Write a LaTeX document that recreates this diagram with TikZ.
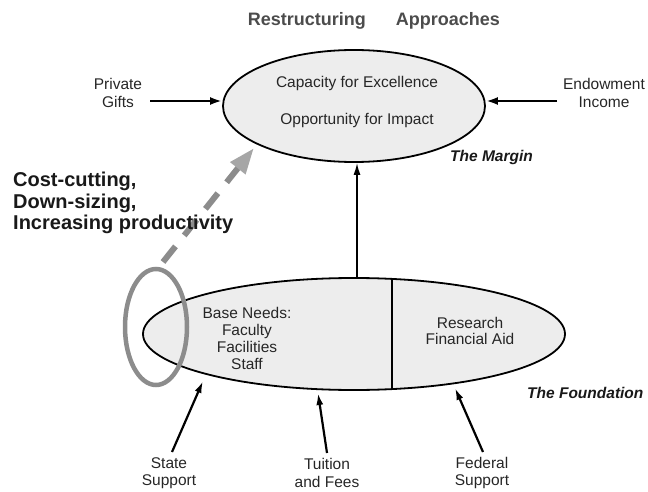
\documentclass[tikz,border=0pt]{standalone}
\usepackage{fontspec}
\setmainfont{Liberation Sans}
\usetikzlibrary{arrows.meta,shapes.geometric}
\begin{document}
\begin{tikzpicture}[x=1pt,y=-1pt,
  txt/.style={font=\fontsize{15.5}{18}\selectfont, text=black!85, align=center, inner sep=0pt},
  lbl/.style={font=\fontsize{15.5}{18}\selectfont\bfseries\itshape, text=black!90, inner sep=0pt},
  oval/.style={ellipse, draw=black, line width=1.8pt, fill=black!7, inner sep=0pt},
  feed/.style={line width=2.6pt, -{Latex[length=12pt,width=8pt]}},
  rise/.style={line width=2.2pt, -{Latex[length=12pt,width=7pt]}},
]
\useasboundingbox (0,0) rectangle (648,492);

% title
\node[font=\fontsize{18}{20}\selectfont\bfseries, text=black!70, inner sep=0pt] (title) at (374,21) {Restructuring\hspace{30pt}Approaches};

% ellipses
\node[oval, minimum width=262pt, minimum height=112pt] (top) at (354,106) {};
\node[oval, minimum width=422pt, minimum height=112pt] (bot) at (354,334) {};
\draw[line width=1.6pt] (bot.56.1) -- (bot.-56.1);

% texts inside
\node[txt] (cap) at (357,83) {Capacity for Excellence};
\node[txt] (opp) at (357,120) {Opportunity for Impact};
\node[txt, font=\fontsize{15.5}{17}\selectfont] (base) at (247,338) {Base Needs:\\Faculty\\Facilities\\Staff};
\node[txt, font=\fontsize{15.5}{16.5}\selectfont] (res) at (470,331) {Research\\Financial Aid};

% labels
\node[lbl, anchor=west] (margin) at (450,157) {The Margin};
\node[lbl, anchor=west] (found) at (527,393) {The Foundation};

% side sources
\node[txt] (gifts) at (118,93) {Private\\Gifts};
\node[txt] (endow) at (604,93) {Endowment\\Income};
\coordinate (g0) at (150,101);
\coordinate (e0) at (557,101);
\draw[feed] (g0) -- (g0 -| top.west);
\draw[feed] (e0) -- (e0 -| top.east);

% upward arrow
\draw[line width=1.6pt, -{Latex[length=12pt,width=7pt]}] ([xshift=3pt]bot.north) -- ([xshift=3pt]top.south);

% bottom sources
\node[txt, font=\fontsize{15.5}{17.5}\selectfont] (state) at (169,473) {State\\Support};
\node[txt, font=\fontsize{15.5}{17.5}\selectfont] (tuition) at (327,473) {Tuition\\and Fees};
\node[txt, font=\fontsize{15.5}{17.5}\selectfont] (federal) at (482,473) {Federal\\Support};
\coordinate (s0) at (172,452); \coordinate (s1) at (203,381);
\coordinate (t0) at (327,453); \coordinate (t1) at (318,393);
\coordinate (f0) at (483,452); \coordinate (f1) at (455,388);
\draw[rise] (s0) -- (s1);
\draw[rise] (t0) -- (t1);
\draw[rise] (f0) -- (f1);

% restructuring highlight
\node[ellipse, draw=black!45, line width=4.5pt, minimum width=62pt, minimum height=116pt, inner sep=0pt] (ring) at (156,327) {};
\coordinate (dstart) at (163,262);
\coordinate (dtip) at (254,148);
\draw[draw=black!45, line width=6pt, dash pattern=on 20pt off 14pt,
  -{Triangle[length=26pt,width=18pt,color=black!35]}] (dstart) -- (dtip);

\node[font=\fontsize{20}{21.5}\selectfont\bfseries, text=black!90, align=left, anchor=west, inner sep=0pt] (cost) at (13,203) {Cost-cutting,\\Down-sizing,\\Increasing productivity};
\end{tikzpicture}
\end{document}
